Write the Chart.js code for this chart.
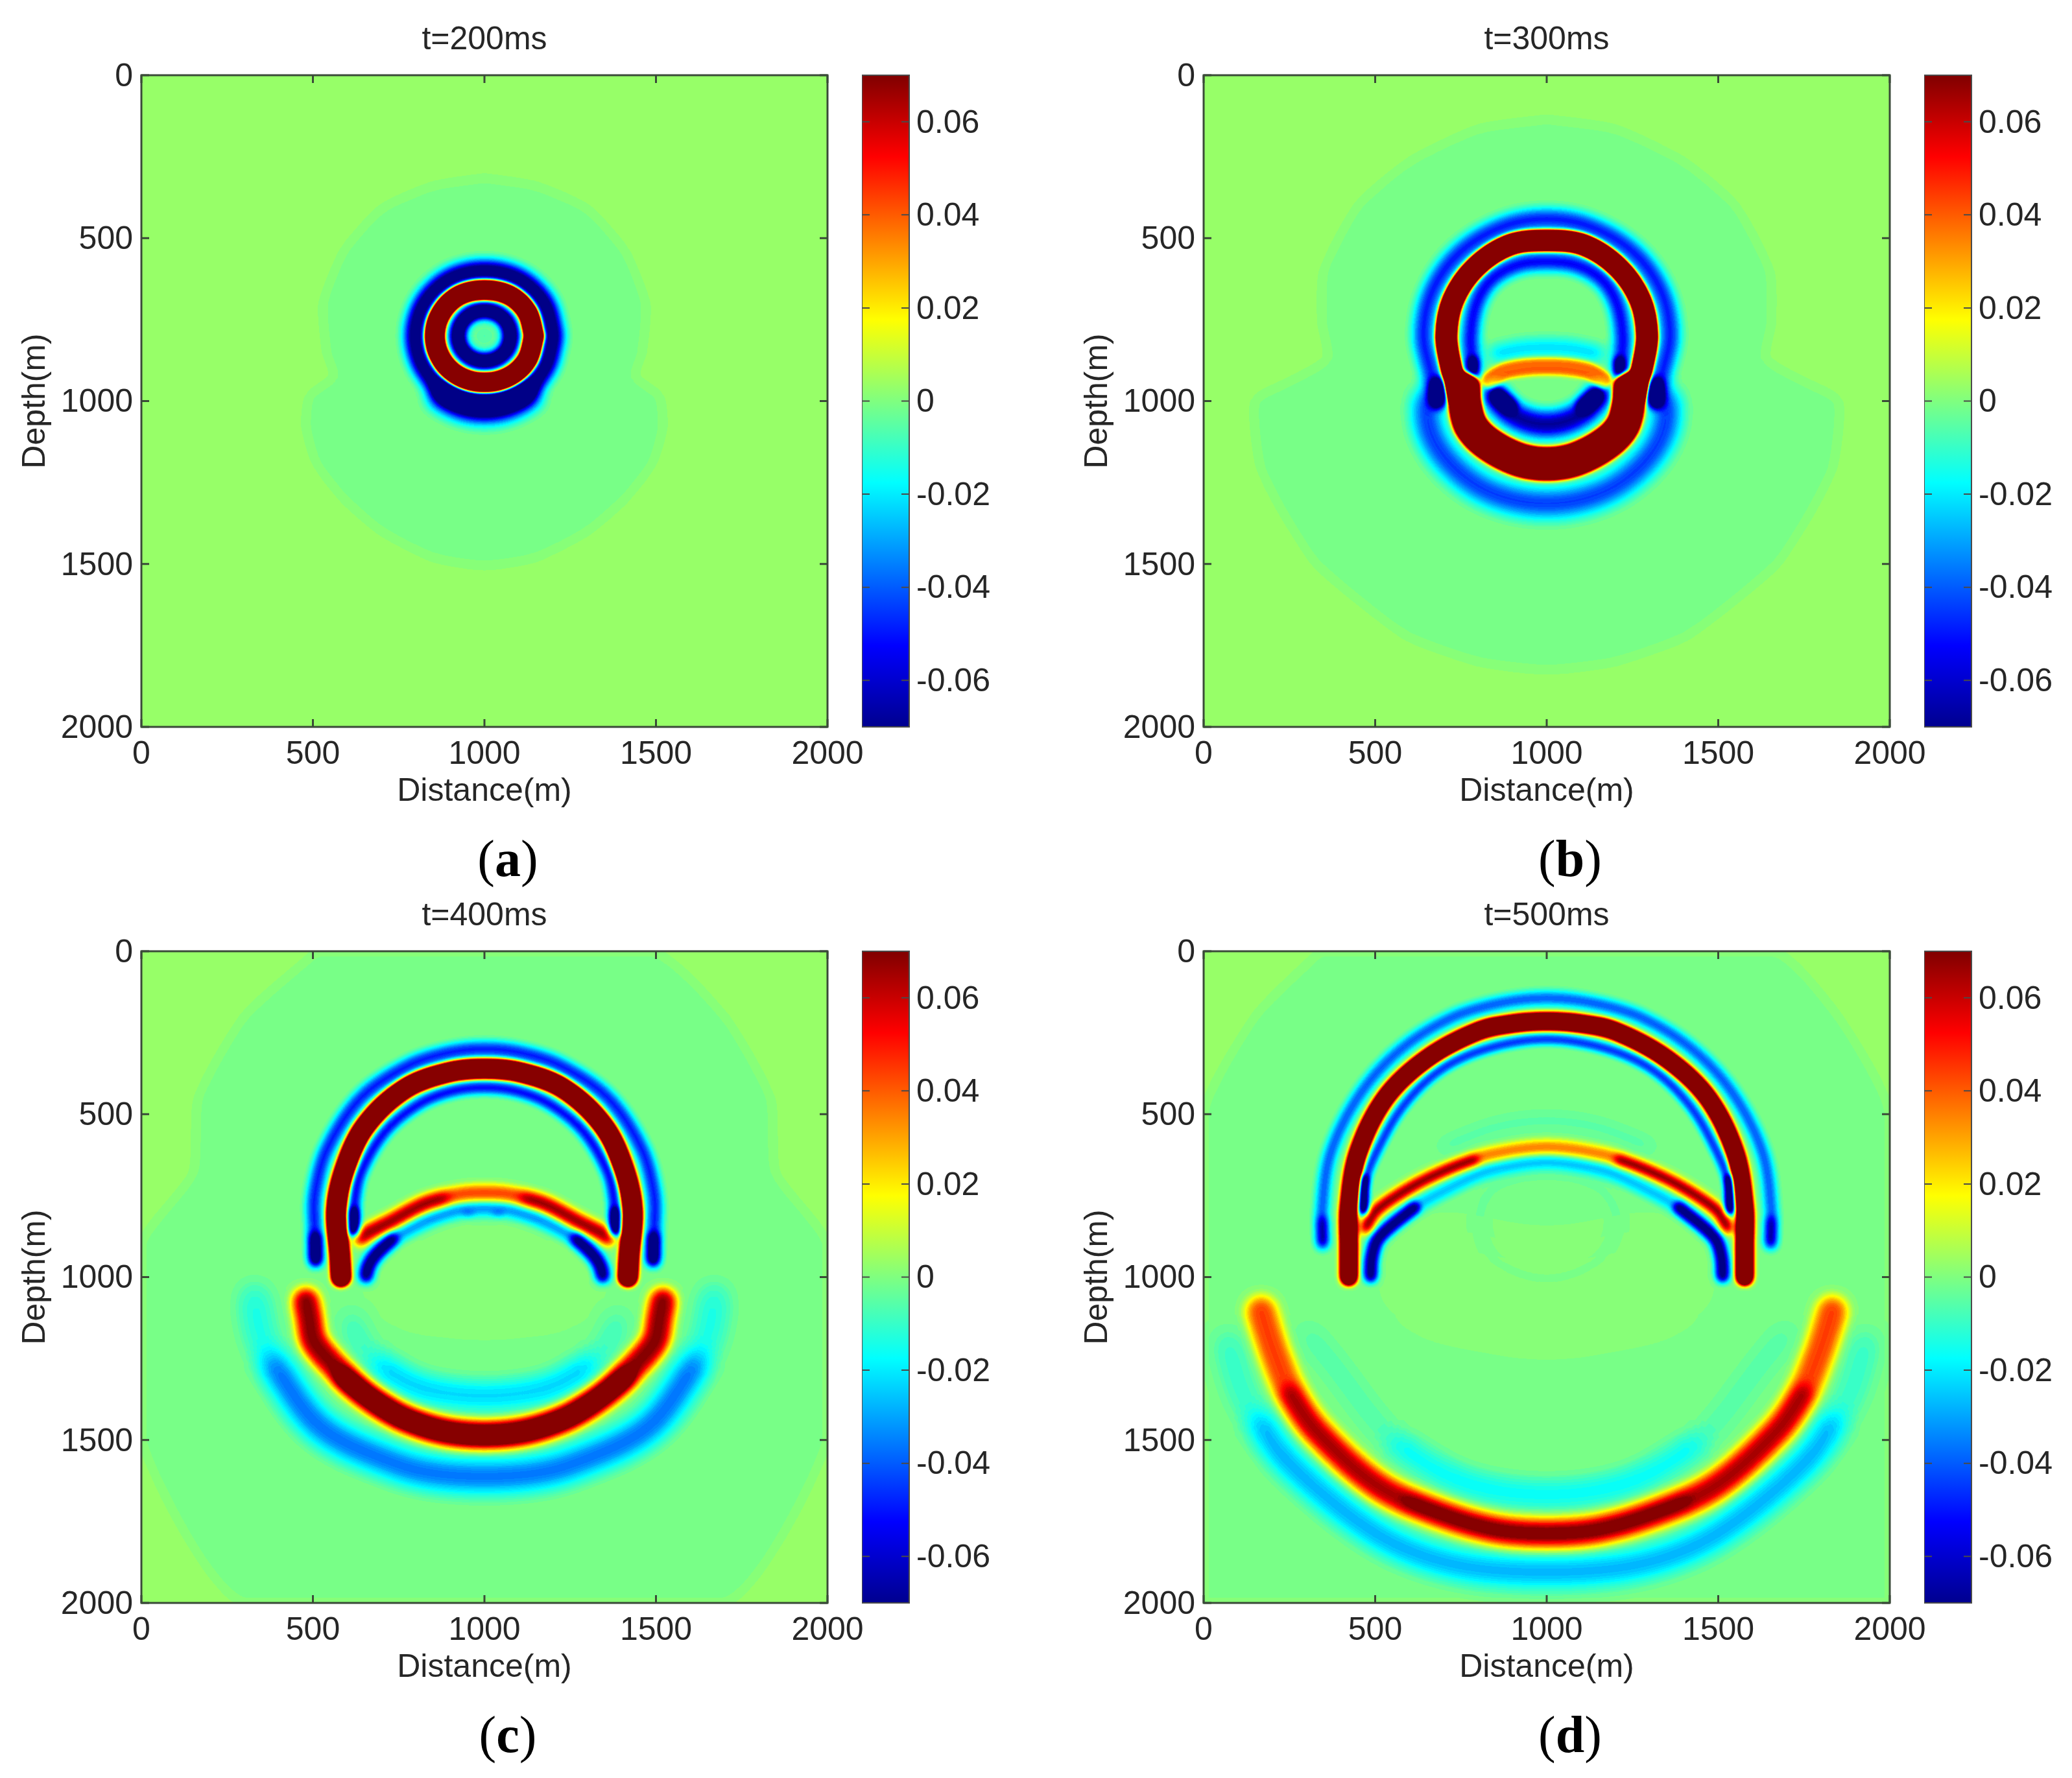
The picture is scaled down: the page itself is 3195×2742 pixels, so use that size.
<!DOCTYPE html>
<html>
<head>
<meta charset="utf-8">
<script src="https://cdn.jsdelivr.net/npm/chart.js@4/dist/chart.umd.min.js"></script>
<style>
  html, body { margin: 0; background: #fff; }
  #page { position: relative; width: 3195px; height: 2742px; overflow: hidden; }
  canvas { position: absolute; }
  .cap { position: absolute; font: 80px "Liberation Serif"; color: #000; transform: translate(-50%, -50%); }
  .cap b { font-weight: 700; }
</style>
</head>
<body>
<div id="page"></div>
<script>
// axis stuff
const distanceTicks = [0, 500, 1000, 1500, 2000];
const depthTicks = [0, 500, 1000, 1500, 2000];
const colorTicks = [-0.06, -0.04, -0.02, 0, 0.02, 0.04, 0.06];
const colorRange = [-0.07, 0.07];
const titles = ['t=200ms', 't=300ms', 't=400ms', 't=500ms'];
const letters = ['a', 'b', 'c', 'd'];

// wavefronts: [distance, depth] in metres, amplitude per path
// t=200ms
const a_halo = [[1000,315],[850,340],[700,410],[590,540],[530,700],[540,850],[560,925],[490,985],[480,1080],[510,1190],[590,1300],[700,1400],[850,1480],[1000,1505],[1150,1480],[1300,1400],[1410,1300],[1490,1190],[1520,1080],[1510,985],[1440,925],[1460,850],[1470,700],[1410,540],[1300,410],[1150,340],[1000,315]];
const a_crest = [[1146,800],[1126,873],[1073,926],[1000,944],[927,926],[874,873],[854,800],[874,727],[927,674],[1000,658],[1073,674],[1126,727],[1146,800]];
const a_outer = [[1203,800],[1176,902],[1102,976],[1000,1003],[898,976],[824,902],[797,800],[824,698],[898,624],[1000,599],[1102,624],[1176,698],[1203,800]];
const a_inner = [[1078,800],[1068,839],[1039,868],[1000,878],[961,868],[932,839],[922,800],[932,761],[961,732],[1000,722],[1039,732],[1068,761],[1078,800]];
const a_bulge = [[870,985],[930,1018],[1000,1030],[1070,1018],[1130,985]];
const a_core = [[995,800],[1005,800]];
const a_paths = [a_halo, a_crest, a_outer, a_inner, a_bulge, a_core];
const a_amps = [-0.003, 0.2, -0.11, -0.12, -0.09, -0.008];

// t=300ms
const b_halo = [[1000,135],[800,165],[600,265],[450,400],[350,600],[345,760],[360,870],[250,940],[150,1000],[165,1200],[230,1340],[325,1495],[450,1610],[595,1723],[800,1800],[1000,1825],[1200,1800],[1405,1723],[1550,1610],[1675,1495],[1770,1340],[1835,1200],[1850,1000],[1750,940],[1640,870],[1655,760],[1650,600],[1550,400],[1400,265],[1200,165],[1000,135]];
const b_upperCrest = [[745,985],[722,900],[707,800],[727,690],[792,590],[893,520],[1000,507],[1107,520],[1208,590],[1273,690],[1293,800],[1278,900],[1255,985]];
const b_lowerCrest = [[758,960],[762,1010],[778,1075],[826,1129],[916,1179],[1000,1193],[1084,1179],[1174,1129],[1222,1075],[1238,1010],[1242,960]];
const b_lens = [[835,935],[885,905],[1000,893],[1115,905],[1165,935]];
const b_upperInner = [[785,905],[778,800],[795,700],[840,625],[920,580],[1000,572],[1080,580],[1160,625],[1205,700],[1222,800],[1215,905]];
const b_upperOuter = [[683,990],[660,900],[640,800],[665,665],[745,545],[870,465],[1000,441],[1130,465],[1255,545],[1335,665],[1360,800],[1340,900],[1317,990]];
const b_lowerInner = [[848,985],[885,1030],[941,1062],[1000,1072],[1059,1062],[1115,1030],[1152,985]];
const b_lowerOuter = [[650,1000],[655,1080],[700,1170],[790,1255],[890,1300],[1000,1315],[1110,1300],[1210,1255],[1300,1170],[1345,1080],[1350,1000]];
const b_outerBlobL = [[683,950],[683,1000]];
const b_outerBlobR = [[1317,950],[1317,1000]];
const b_innerBlobL = [[785,880],[785,915]];
const b_innerBlobR = [[1212,880],[1212,915]];
const b_bowlTipL = [[860,985],[890,1012]];
const b_bowlTipR = [[1140,985],[1110,1012]];
const b_rim = [[850,855],[930,838],[1000,835],[1070,838],[1150,855]];
const b_paths = [b_halo, b_upperCrest, b_lowerCrest, b_lens, b_upperInner, b_upperOuter, b_lowerInner, b_lowerOuter, b_outerBlobL, b_outerBlobR, b_innerBlobL, b_innerBlobR, b_bowlTipL, b_bowlTipR, b_rim];
const b_amps = [-0.003, 0.2, 0.2, 0.04, -0.07, -0.065, -0.07, -0.055, -0.06, -0.06, -0.05, -0.05, -0.05, -0.05, -0.03];

// t=400ms
const c_halo = [[512,0],[300,200],[166,450],[150,680],[0,900],[0,1500],[300,2000],[1700,2000],[2000,1500],[2000,900],[1850,680],[1834,450],[1700,200],[1488,0],[512,0]];
const c_glow = [[800,1000],[1000,1020],[1200,1000]];
const c_upperCrest = [[582,1000],[578,930],[568,800],[590,680],[650,540],[770,420],[900,370],[1000,360],[1100,370],[1230,420],[1350,540],[1410,680],[1432,800],[1422,930],[1418,1000]];
const c_reflected = [[640,880],[653,868],[730,828],[826,775],[923,748],[1000,742],[1077,748],[1174,775],[1270,828],[1347,868],[1360,880]];
const c_reflL = [[645,875],[653,868],[730,828],[826,775],[880,760]];
const c_reflR = [[1355,875],[1347,868],[1270,828],[1174,775],[1120,760]];
const c_underArc = [[655,1000],[660,970],[680,935],[730,885],[826,830],[923,795],[1000,790],[1077,795],[1174,830],[1270,885],[1320,935],[1340,970],[1345,1000]];
const c_underL = [[655,995],[660,970],[680,935],[730,885]];
const c_underR = [[1345,995],[1340,970],[1320,935],[1270,885]];
const c_upperInner = [[620,860],[622,770],[640,680],[710,555],[805,472],[900,431],[1000,418],[1100,431],[1195,472],[1290,555],[1360,680],[1378,770],[1380,860]];
const c_innerBlobL = [[620,800],[620,860]];
const c_innerBlobR = [[1380,800],[1380,860]];
const c_upperOuter = [[508,950],[505,850],[505,750],[540,610],[640,450],[780,350],[900,310],[1000,300],[1100,310],[1220,350],[1360,450],[1460,610],[1495,750],[1495,850],[1492,950]];
const c_outerBlobL = [[508,880],[508,945]];
const c_outerBlobR = [[1492,880],[1492,945]];
const c_lowerCrest = [[480,1075],[490,1130],[502,1196],[556,1265],[632,1343],[700,1395],[773,1437],[880,1473],[1000,1485],[1120,1473],[1227,1437],[1300,1395],[1368,1343],[1444,1265],[1498,1196],[1510,1130],[1520,1075]];
const c_lowerCore = [[590,1310],[632,1343],[700,1395],[773,1437],[880,1473],[1000,1485],[1120,1473],[1227,1437],[1300,1395],[1368,1343],[1410,1310]];
const c_lowerOuter = [[330,1060],[345,1170],[388,1272],[523,1462],[752,1577],[870,1605],[1000,1612],[1130,1605],[1248,1577],[1477,1462],[1612,1272],[1655,1170],[1670,1060]];
const c_lowerOuterMid = [[388,1272],[523,1462],[752,1577],[870,1605],[1000,1612],[1130,1605],[1248,1577],[1477,1462],[1612,1272]];
const c_lowerInner = [[610,1130],[640,1210],[697,1272],[800,1335],[900,1358],[1000,1365],[1100,1358],[1200,1335],[1303,1272],[1360,1210],[1390,1130]];
const c_lowerInnerMid = [[697,1272],[800,1335],[900,1358],[1000,1365],[1100,1358],[1200,1335],[1303,1272]];
const c_dotL = [[945,805],[960,805]];
const c_dotR = [[1032,805],[1047,805]];
const c_paths = [c_halo, c_glow, c_upperCrest, c_reflected, c_reflL, c_reflR, c_underArc, c_underL, c_underR, c_upperInner, c_innerBlobL, c_innerBlobR, c_upperOuter, c_outerBlobL, c_outerBlobR, c_lowerCrest, c_lowerCore, c_lowerOuter, c_lowerOuterMid, c_lowerInner, c_lowerInnerMid, c_dotL, c_dotR];
const c_amps = [-0.003, 0.0025, 0.2, 0.045, 0.03, 0.03, -0.035, -0.05, -0.05, -0.06, -0.05, -0.05, -0.055, -0.05, -0.05, 0.07, 0.05, -0.02, -0.03, -0.014, -0.024, -0.012, -0.012];

// t=500ms
const d_halo = [[340,0],[150,200],[0,500],[0,2000],[2000,2000],[2000,500],[1850,200],[1660,0],[340,0]];
const d_glow = [[700,1000],[1000,1050],[1300,1000]];
const d_upperCrest = [[423,1000],[423,900],[423,790],[450,620],[530,450],[650,330],[800,245],[900,222],[1000,215],[1100,222],[1200,245],[1350,330],[1470,450],[1550,620],[1577,790],[1577,900],[1577,1000]];
const d_upperInner = [[466,800],[467,720],[500,625],[580,478],[690,365],[830,298],[1000,270],[1170,298],[1310,365],[1420,478],[1500,625],[1533,720],[1534,800]];
const d_innerBlobL = [[468,700],[466,790]];
const d_innerBlobR = [[1532,700],[1534,790]];
const d_upperOuter = [[347,900],[345,800],[370,620],[455,440],[570,305],[720,205],[860,160],[1000,144],[1140,160],[1280,205],[1430,305],[1545,440],[1630,620],[1655,800],[1653,900]];
const d_outerBlobL = [[347,830],[347,890]];
const d_outerBlobR = [[1653,830],[1653,890]];
const d_reflected = [[470,850],[504,795],[613,719],[721,665],[830,625],[1000,601],[1170,625],[1279,665],[1387,719],[1496,795],[1530,850]];
const d_reflL = [[475,845],[504,795],[613,719],[721,665],[790,640]];
const d_reflR = [[1525,845],[1496,795],[1387,719],[1279,665],[1210,640]];
const d_underArc = [[487,1000],[490,940],[510,880],[613,788],[721,725],[830,675],[1000,647],[1170,675],[1279,725],[1387,788],[1490,880],[1510,940],[1513,1000]];
const d_underL = [[487,995],[490,940],[510,880],[613,788]];
const d_underR = [[1513,995],[1510,940],[1490,880],[1387,788]];
const d_band = [[700,600],[850,540],[1000,520],[1150,540],[1300,600]];
const d_ring = [[800,830],[830,930],[910,985],[1000,1005],[1090,985],[1170,930],[1205,830],[1170,740],[1090,700],[1000,690],[910,700],[830,740],[800,830]];
const d_lowerCrest = [[168,1105],[180,1150],[205,1230],[255,1360],[325,1468],[506,1640],[687,1725],[850,1775],[1000,1787],[1150,1775],[1313,1725],[1494,1640],[1675,1468],[1745,1360],[1795,1230],[1820,1150],[1832,1105]];
const d_lowerMid = [[255,1360],[325,1468],[506,1640],[687,1725],[850,1775],[1000,1787],[1150,1775],[1313,1725],[1494,1640],[1675,1468],[1745,1360]];
const d_lowerCore = [[600,1690],[687,1725],[850,1775],[1000,1787],[1150,1775],[1313,1725],[1400,1690]];
const d_lowerOuter = [[70,1200],[120,1372],[241,1563],[506,1790],[730,1882],[1000,1906],[1270,1882],[1494,1790],[1759,1563],[1880,1372],[1930,1200]];
const d_lowerOuterMid = [[170,1450],[241,1563],[506,1790],[730,1882],[1000,1906],[1270,1882],[1494,1790],[1759,1563],[1830,1450]];
const d_lowerInner = [[300,1170],[361,1248],[566,1515],[760,1630],[1000,1668],[1240,1630],[1434,1515],[1639,1248],[1700,1170]];
const d_lowerInnerMid = [[566,1515],[760,1630],[1000,1668],[1240,1630],[1434,1515]];
const d_paths = [d_halo, d_glow, d_upperCrest, d_upperInner, d_innerBlobL, d_innerBlobR, d_upperOuter, d_outerBlobL, d_outerBlobR, d_reflected, d_reflL, d_reflR, d_underArc, d_underL, d_underR, d_band, d_ring, d_lowerCrest, d_lowerMid, d_lowerCore, d_lowerOuter, d_lowerOuterMid, d_lowerInner, d_lowerInnerMid];
const d_amps = [-0.003, 0.0025, 0.2, -0.05, -0.05, -0.05, -0.05, -0.03, -0.03, 0.038, 0.04, 0.04, -0.03, -0.05, -0.05, -0.008, -0.004, 0.045, 0.022, 0.012, -0.014, -0.024, -0.01, -0.018];

// stroke styling, same order as the paths above (width 0 = filled region)
const a_widths = [0, 28, 22, 20, 30, 30];
const a_blurs = [0, 3, 10, 7, 12, 10];
const b_widths = [0, 30, 46, 26, 20, 22, 36, 34, 22, 22, 16, 16, 24, 24, 20];
const b_blurs = [0, 3, 4, 3, 9, 10, 10, 14, 6, 6, 5, 5, 6, 6, 10];
const c_widths = [0, 120, 26, 24, 18, 18, 20, 20, 20, 16, 14, 14, 20, 18, 18, 40, 24, 36, 36, 26, 26, 10, 10];
const c_blurs = [0, 30, 4, 6, 8, 8, 7, 6, 6, 6, 5, 5, 7, 6, 6, 8, 10, 18, 16, 18, 16, 4, 4];
const d_widths = [0, 150, 22, 14, 14, 14, 16, 16, 16, 20, 14, 14, 18, 20, 20, 20, 16, 46, 32, 22, 34, 34, 26, 26];
const d_blurs = [0, 30, 5, 5, 4, 4, 7, 6, 6, 6, 6, 6, 7, 5, 5, 12, 10, 9, 9, 9, 18, 16, 18, 16];

const panels = [
  {x: 218, y: 116, paths: a_paths, amps: a_amps, widths: a_widths, blurs: a_blurs},
  {x: 1856, y: 116, paths: b_paths, amps: b_amps, widths: b_widths, blurs: b_blurs},
  {x: 218, y: 1467, paths: c_paths, amps: c_amps, widths: c_widths, blurs: c_blurs},
  {x: 1856, y: 1467, paths: d_paths, amps: d_amps, widths: d_widths, blurs: d_blurs}
];

const PW = 1058, PH = 1005;
const LEFT = 218, TOP = 116, CW = 1340, CH = 1290;
const baseValue = 0.0028;
const unit = 0.2 / 255; // one 8 bit step of the hidden amplitude canvas
const fillBlur = 'blur(7px)';
const textColor = '#262626';
const font = {family: '"Liberation Sans"', size: 50, lineHeight: 1};

const jetStops = [[0, '#00008f'], [0.125, '#0000ff'], [0.375, '#00ffff'], [0.625, '#ffff00'], [0.875, '#ff0000'], [1, '#800000']];

function jet(v) {
  let t = (v - colorRange[0]) / (colorRange[1] - colorRange[0]);
  t = Math.max(0, Math.min(0.9999, t));
  t = (Math.floor(t * 64) + 0.5) / 64;
  const c = f => Math.max(0, Math.min(1, 1.5 - Math.abs(4 * t - f))) * 255;
  return [c(3), c(2), c(1)];
}

function encode(v) {
  const n = Math.round(Math.abs(v) / unit);
  return v >= 0 ? `rgb(${n},0,0)` : `rgb(0,0,${n})`;
}

// paths are drawn additively as signed amplitude (red +, blue -), then mapped to jet
const fieldPlugin = {
  id: 'field',
  beforeDatasetsDraw(chart) {
    const {ctx, chartArea: a} = chart;
    ctx.save();
    ctx.fillStyle = '#000';
    ctx.fillRect(a.left, a.top, a.width, a.height);
    ctx.globalCompositeOperation = 'lighter';
    ctx.filter = fillBlur; // the filler plugin paints before beforeDatasetDraw
  },
  beforeDatasetDraw(chart, args) {
    const b = chart.data.datasets[args.index].blur;
    chart.ctx.filter = b ? `blur(${b}px)` : 'none';
  },
  afterDatasetDraw(chart) {
    chart.ctx.filter = fillBlur;
  },
  afterDatasetsDraw(chart) {
    const {ctx, chartArea: a} = chart;
    ctx.filter = 'none';
    ctx.restore();
    const img = ctx.getImageData(a.left, a.top, a.width, a.height);
    const p = img.data;
    for (let i = 0; i < p.length; i += 4) {
      const c = jet(baseValue + (p[i] - p[i + 2]) * unit);
      p[i] = c[0]; p[i + 1] = c[1]; p[i + 2] = c[2]; p[i + 3] = 255;
    }
    ctx.putImageData(img, a.left, a.top);
  }
};

// matlab style box with ticks pointing inward
const boxPlugin = {
  id: 'box',
  afterDraw(chart, args, opts) {
    const {ctx, chartArea: a} = chart;
    ctx.save();
    ctx.strokeStyle = opts.color;
    ctx.lineWidth = opts.width;
    ctx.strokeRect(a.left, a.top, a.width, a.height);
    ctx.beginPath();
    const len = 12;
    if (chart.scales.x.options.display !== false) {
      chart.scales.x.ticks.forEach(t => {
        const x = chart.scales.x.getPixelForValue(t.value);
        ctx.moveTo(x, a.top); ctx.lineTo(x, a.top + len);
        ctx.moveTo(x, a.bottom); ctx.lineTo(x, a.bottom - len);
      });
    }
    chart.scales.y.ticks.forEach(t => {
      const y = chart.scales.y.getPixelForValue(t.value);
      ctx.moveTo(a.left, y); ctx.lineTo(a.left + len, y);
      ctx.moveTo(a.right, y); ctx.lineTo(a.right - len, y);
    });
    ctx.stroke();
    ctx.restore();
  }
};

function addCanvas(left, top, w, h) {
  const c = document.createElement('canvas');
  c.width = w; c.height = h;
  c.style.left = left + 'px'; c.style.top = top + 'px';
  document.getElementById('page').appendChild(c);
  return c;
}

function drawPanel(panel, i) {
  const datasets = panel.paths.map((path, k) => {
    const filled = panel.widths[k] === 0;
    return {
      data: path.map(pt => ({x: pt[0], y: pt[1]})),
      showLine: true,
      pointRadius: 0,
      tension: filled ? 0.2 : 0.33,
      clip: 0,
      borderCapStyle: 'round',
      borderColor: encode(panel.amps[k]),
      backgroundColor: encode(panel.amps[k]),
      borderWidth: panel.widths[k],
      fill: filled ? 'shape' : false,
      blur: panel.blurs[k]
    };
  });
  new Chart(addCanvas(panel.x - LEFT, panel.y - TOP, CW, CH), {
    type: 'scatter',
    data: {datasets},
    plugins: [fieldPlugin, boxPlugin],
    options: {
      responsive: false,
      animation: false,
      events: [],
      layout: {padding: {right: CW - LEFT - PW}},
      plugins: {
        legend: {display: false},
        tooltip: {enabled: false},
        box: {color: '#3a4a38', width: 3},
        title: {display: true, text: titles[i], fullSize: false, color: textColor, font: {...font, weight: 'normal'}, padding: {top: 37, bottom: 29}}
      },
      scales: {
        x: {
          type: 'linear', min: 0, max: 2000,
          grid: {display: false, drawTicks: false},
          border: {display: false},
          afterBuildTicks: s => { s.ticks = distanceTicks.map(v => ({value: v})); },
          afterFit: s => { s.height = CH - TOP - PH; s.paddingLeft = 0; s.paddingRight = 0; },
          ticks: {font, color: textColor, padding: 18, maxRotation: 0, autoSkip: false, callback: v => String(v)},
          title: {display: true, text: 'Distance(m)', font, color: textColor, padding: {top: 44, bottom: 44}}
        },
        y: {
          type: 'linear', min: 0, max: 2000, reverse: true,
          grid: {display: false, drawTicks: false},
          border: {display: false},
          afterBuildTicks: s => { s.ticks = depthTicks.map(v => ({value: v})); },
          afterFit: s => { s.width = LEFT; s.paddingTop = 0; s.paddingBottom = 0; },
          ticks: {font, color: textColor, padding: 13, labelOffset: 3, autoSkip: false, callback: v => String(v)},
          title: {display: true, text: 'Depth(m)', font, color: textColor, padding: {top: 30, bottom: 30}}
        }
      }
    }
  });
}

function drawColorbar(panel) {
  const barW = 73, w = 240, pad = 40;
  new Chart(addCanvas(panel.x + PW + 53, panel.y - pad, w, PH + 2 * pad), {
    type: 'bar',
    data: {
      labels: ['jet'],
      datasets: [{
        data: [colorRange],
        barPercentage: 1,
        categoryPercentage: 1,
        backgroundColor: c => {
          const a = c.chart.chartArea;
          if (!a) return '#000';
          const g = c.chart.ctx.createLinearGradient(0, a.bottom, 0, a.top);
          jetStops.forEach(s => g.addColorStop(s[0], s[1]));
          return g;
        }
      }]
    },
    plugins: [boxPlugin],
    options: {
      responsive: false,
      animation: false,
      events: [],
      layout: {padding: {top: pad, bottom: pad}},
      plugins: {legend: {display: false}, tooltip: {enabled: false}, box: {color: '#4a4a4a', width: 2}},
      scales: {
        x: {display: false},
        y: {
          position: 'right', min: colorRange[0], max: colorRange[1],
          grid: {display: false, drawTicks: false},
          border: {display: false},
          afterBuildTicks: s => { s.ticks = colorTicks.map(v => ({value: v})); },
          afterFit: s => { s.width = w - barW; },
          ticks: {font, color: textColor, padding: 11, labelOffset: 3, autoSkip: false, callback: v => String(v)}
        }
      }
    }
  });
}

panels.forEach((p, i) => {
  drawPanel(p, i);
  drawColorbar(p);
  const cap = document.createElement('div');
  cap.className = 'cap';
  cap.style.left = (p.x + 565) + 'px';
  cap.style.top = (p.y + 1208) + 'px';
  cap.innerHTML = `(<b>${letters[i]}</b>)`;
  document.getElementById('page').appendChild(cap);
});
</script>
</body>
</html>
